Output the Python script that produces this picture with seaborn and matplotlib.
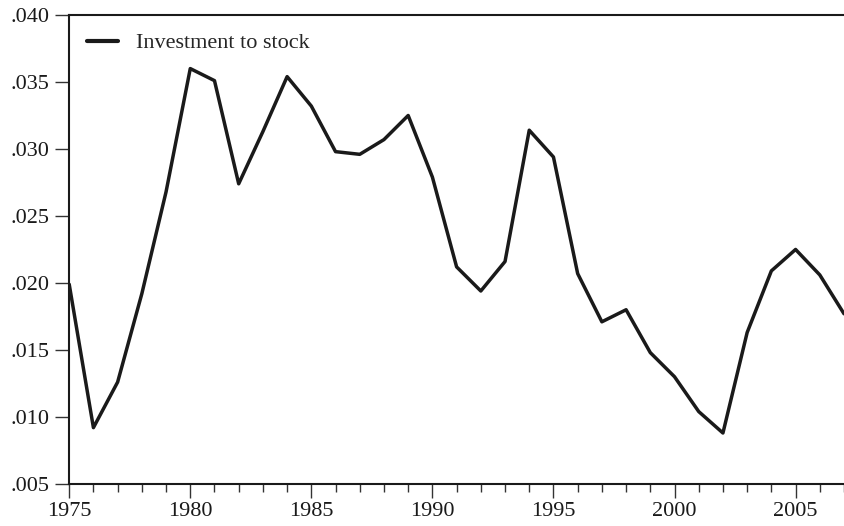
import numpy as np
import pandas as pd
import matplotlib
matplotlib.use("Agg")
import matplotlib.pyplot as plt
import seaborn as sns
from matplotlib.ticker import MultipleLocator, FuncFormatter

# Data
years = list(range(1975, 2008))
investment_to_stock = [
    0.0199, 0.0092, 0.0126, 0.0192, 0.0268, 0.0360, 0.0351, 0.0274, 0.0313,
    0.0354, 0.0332, 0.0298, 0.0296, 0.0307, 0.0325, 0.0279, 0.0212, 0.0194,
    0.0216, 0.0314, 0.0294, 0.0207, 0.0171, 0.0180, 0.0148, 0.0130, 0.0104,
    0.0088, 0.0163, 0.0209, 0.0225, 0.0206, 0.0177,
]
series_label = "Investment to stock"

df = pd.DataFrame({"year": years, "value": investment_to_stock})

sns.set_style("white")
plt.rcParams["font.family"] = ["Liberation Serif", "DejaVu Serif"]

fig = plt.figure(figsize=(8.44, 5.26), dpi=100)
ax = fig.add_axes([0.082, 0.080, 0.918, 0.8915])

sns.lineplot(data=df, x="year", y="value", ax=ax, color="#1a1a1a",
             linewidth=2.5, label=series_label)

ax.set_xlim(1975, 2007)
ax.set_ylim(0.005, 0.040)
ax.xaxis.set_major_locator(MultipleLocator(5))
ax.xaxis.set_minor_locator(MultipleLocator(1))
ax.yaxis.set_major_locator(MultipleLocator(0.005))
ax.yaxis.set_major_formatter(FuncFormatter(lambda v, p: f"{v:.3f}".lstrip("0")))

ax.set_xlabel("")
ax.set_ylabel("")

for side in ["left", "bottom", "top"]:
    ax.spines[side].set_visible(True)
    ax.spines[side].set_color("#1a1a1a")
    ax.spines[side].set_linewidth(1.5)
ax.spines["right"].set_visible(False)

ax.tick_params(axis="both", which="major", direction="out", length=10, width=1.0,
               color="#333333", labelsize=16, labelcolor="#1a1a1a",
               bottom=True, left=True)
ax.tick_params(axis="x", which="minor", direction="out", length=6, width=1.0,
               color="#333333", bottom=True)
ax.tick_params(axis="y", which="major", pad=4)
ax.tick_params(axis="x", which="major", pad=3)

leg = ax.legend(loc="upper left", frameon=False, fontsize=16,
                handlelength=1.4, borderaxespad=0.4, handletextpad=0.8)
for line in leg.get_lines():
    line.set_linewidth(3)

fig.savefig("out.png", dpi=100)
